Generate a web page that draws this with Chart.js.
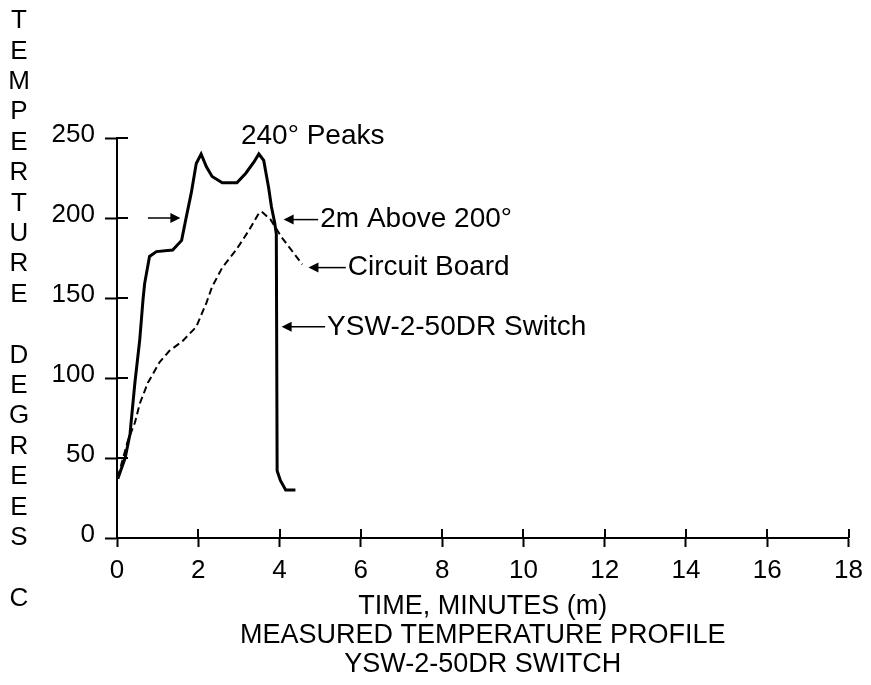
<!DOCTYPE html>
<html>
<head>
<meta charset="utf-8">
<script src="https://cdn.jsdelivr.net/npm/chart.js@4.4.1/dist/chart.umd.min.js"></script>
<style>
  html, body { margin: 0; padding: 0; background: #fff; }
</style>
</head>
<body>
<canvas id="chart" width="871" height="685"></canvas>
<script>
// Switch body temperature (solid line)
const switchTime = [0.02, 0.2, 0.32, 0.44, 0.56, 0.64, 0.68, 0.8, 0.97, 1.37, 1.59, 1.7, 1.83, 1.95, 2.07, 2.2, 2.34, 2.59, 2.95, 3.17, 3.37, 3.49, 3.61, 3.73, 3.8, 3.88, 3.92, 3.94, 4.02, 4.15, 4.39];
const switchTemp = [37, 50, 65, 97, 124, 149, 159, 176, 179, 180, 186, 200, 216, 234, 240, 232, 226, 222, 222, 228, 235, 240, 236, 219, 207, 197, 190, 42, 36, 30, 30];

// Circuit board temperature (dashed line)
const boardTime = [0.02, 0.15, 0.27, 0.44, 0.56, 0.76, 1.05, 1.29, 1.61, 1.95, 2.2, 2.34, 2.59, 2.93, 3.24, 3.49, 3.56, 3.78, 4.05, 4.29, 4.56];
const boardTemp = [38, 50, 61, 72, 84, 97, 110, 117, 123, 132, 147, 157, 169, 180, 192, 203, 204, 199, 188, 180, 171];

const timeTicks = [0, 2, 4, 6, 8, 10, 12, 14, 16, 18];
const tempTicks = [0, 50, 100, 150, 200, 250];

const yTitle = 'TEMPERTURE DEGREES C';
const xTitle = ['TIME, MINUTES (m)', 'MEASURED TEMPERATURE PROFILE', 'YSW-2-50DR SWITCH'];

// callouts, in chart units (minutes, degrees)
const notes = [
  { text: '240\u00B0 Peaks', x: 3.05, y: 251 },
  { tail: 0.76, head: 1.56, y: 200 },
  { text: '2m Above 200\u00B0', x: 5.0, y: 199, tail: 4.95, head: 4.1 },
  { text: 'Circuit Board', x: 5.68, y: 169, tail: 5.63, head: 4.71 },
  { text: 'YSW-2-50DR Switch', x: 5.17, y: 132, tail: 5.12, head: 4.05 }
];

const FONT = '"Liberation Sans", Arial, sans-serif';

function toPoints(xs, ys) {
  return xs.map((x, i) => ({ x: x, y: ys[i] }));
}

function drawArrow(ctx, x1, x2, y) {
  const dir = x2 > x1 ? 1 : -1;
  ctx.beginPath();
  ctx.moveTo(x1, y);
  ctx.lineTo(x2 - dir * 6, y);
  ctx.stroke();
  ctx.beginPath();
  ctx.moveTo(x2, y);
  ctx.lineTo(x2 - dir * 10, y - 5);
  ctx.lineTo(x2 - dir * 10, y + 5);
  ctx.closePath();
  ctx.fill();
}

/** Tick marks that cross the axis line, like the original drawing. */
const crossTicks = {
  id: 'crossTicks',
  beforeDatasetsDraw(chart) {
    const { ctx, chartArea, scales: { x, y } } = chart;
    ctx.save();
    ctx.strokeStyle = '#000';
    ctx.lineWidth = 2;
    ctx.beginPath();
    x.ticks.forEach(t => {
      const px = Math.round(x.getPixelForValue(t.value));
      ctx.moveTo(px, chartArea.bottom);
      ctx.lineTo(px, chartArea.bottom - 9);
    });
    y.ticks.forEach(t => {
      const py = Math.round(y.getPixelForValue(t.value));
      ctx.moveTo(chartArea.left, py);
      ctx.lineTo(chartArea.left + 11, py);
    });
    ctx.stroke();
    ctx.restore();
  }
};

const callouts = {
  id: 'callouts',
  afterDraw(chart) {
    const { ctx, scales: { x, y } } = chart;
    ctx.save();
    ctx.fillStyle = '#000';
    ctx.strokeStyle = '#000';
    ctx.lineWidth = 1.5;
    ctx.font = '28px ' + FONT;
    ctx.textBaseline = 'middle';
    ctx.textAlign = 'left';
    notes.forEach(n => {
      const py = y.getPixelForValue(n.y);
      if (n.tail !== undefined) {
        drawArrow(ctx, x.getPixelForValue(n.tail), x.getPixelForValue(n.head), py);
      }
      if (n.text) {
        ctx.fillText(n.text, x.getPixelForValue(n.x), py);
      }
    });

    // stacked vertical axis title
    ctx.font = '26px ' + FONT;
    ctx.textAlign = 'center';
    const step = 30.4;
    [...yTitle].forEach((ch, i) => {
      ctx.fillText(ch, 19, 21 + i * step);
    });
    ctx.restore();
  }
};

Chart.defaults.color = '#000';
Chart.defaults.font.family = FONT;

new Chart(document.getElementById('chart'), {
  type: 'line',
  data: {
    datasets: [{
      label: 'YSW-2-50DR Switch',
      data: toPoints(switchTime, switchTemp),
      borderColor: '#000',
      borderWidth: 3,
      pointRadius: 0,
      tension: 0,
      fill: false
    }, {
      label: 'Circuit Board',
      data: toPoints(boardTime, boardTemp),
      borderColor: '#000',
      borderWidth: 2,
      borderDash: [7, 4],
      pointRadius: 0,
      tension: 0,
      fill: false
    }]
  },
  options: {
    responsive: false,
    animation: false,
    layout: {
      padding: { top: 138, right: 16, left: 0, bottom: 0 }
    },
    plugins: {
      legend: { display: false },
      tooltip: { enabled: false }
    },
    scales: {
      x: {
        type: 'linear',
        min: timeTicks[0],
        max: timeTicks[timeTicks.length - 1],
        afterBuildTicks: scale => { scale.ticks = timeTicks.map(v => ({ value: v })); },
        afterFit: scale => { scale.height = 147; },
        grid: {
          drawOnChartArea: false,
          drawTicks: true,
          tickLength: 9,
          tickWidth: 2,
          tickColor: '#000'
        },
        border: { color: '#000', width: 2 },
        ticks: {
          font: { size: 26 },
          padding: 8,
          maxRotation: 0
        },
        title: {
          display: true,
          text: xTitle,
          font: { size: 27, lineHeight: 1.07 },
          padding: { top: 0, bottom: 6 }
        }
      },
      y: {
        min: tempTicks[0],
        max: tempTicks[tempTicks.length - 1],
        afterBuildTicks: scale => { scale.ticks = tempTicks.map(v => ({ value: v })); },
        afterFit: scale => { scale.width = 117; },
        grid: {
          drawOnChartArea: false,
          drawTicks: true,
          tickLength: 12,
          tickWidth: 2,
          tickColor: '#000'
        },
        border: { color: '#000', width: 2 },
        ticks: {
          font: { size: 26 },
          padding: 10,
          labelOffset: -3
        }
      }
    }
  },
  plugins: [crossTicks, callouts]
});
</script>
</body>
</html>
